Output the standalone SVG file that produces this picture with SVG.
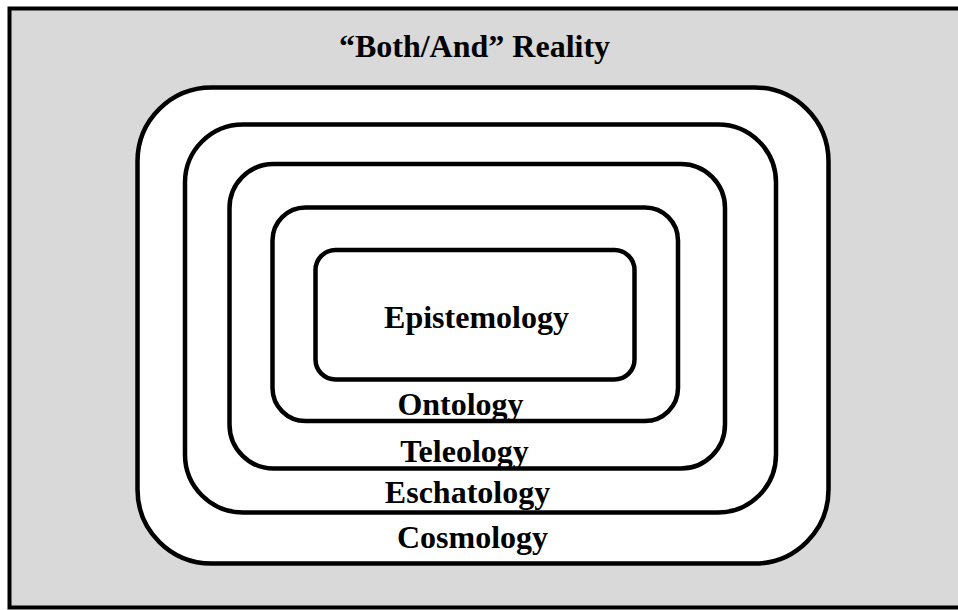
<svg xmlns="http://www.w3.org/2000/svg" width="958" height="610" viewBox="0 0 958 610">
  <style>
    .frame { fill: #d9d9d9; stroke: #000; stroke-width: 4; }
    .fill { fill: #fff; stroke: none; }
    .line { fill: none; stroke: #000; stroke-width: 4.5; }
    .label { font-family: "Liberation Serif", "Times New Roman", serif; font-weight: bold; font-size: 32px; fill: #000; text-anchor: middle; }
  </style>

  <defs>
    <rect id="r-cos" x="137.5" y="87.5" width="691" height="476" rx="74" ry="74"/>
    <rect id="r-esc" x="185" y="124.5" width="591" height="388" rx="58" ry="58"/>
    <rect id="r-tel" x="229.5" y="164" width="495.5" height="304.5" rx="44" ry="44"/>
    <rect id="r-ont" x="272.5" y="207.5" width="405.5" height="213.5" rx="33" ry="33"/>
    <rect id="r-epi" x="315.5" y="250" width="319" height="129.5" rx="20" ry="20"/>
  </defs>

  <!-- outer field -->
  <g id="reality">
    <rect class="frame" x="9.5" y="8.5" width="960" height="599"/>
    <text class="label" x="474.5" y="57">“Both/And” Reality</text>
  </g>

  <!-- nested layers, outermost first; outline drawn over the label so descenders sit under the edge -->
  <g id="cosmology">
    <use href="#r-cos" class="fill"/>
    <text class="label" x="472.5" y="548">Cosmology</text>
    <use href="#r-cos" class="line"/>
  </g>
  <g id="eschatology">
    <use href="#r-esc" class="fill"/>
    <text class="label" x="467.5" y="503">Eschatology</text>
    <use href="#r-esc" class="line"/>
  </g>
  <g id="teleology">
    <use href="#r-tel" class="fill"/>
    <text class="label" x="464.5" y="461.5">Teleology</text>
    <use href="#r-tel" class="line"/>
  </g>
  <g id="ontology">
    <use href="#r-ont" class="fill"/>
    <text class="label" x="460.5" y="415">Ontology</text>
    <use href="#r-ont" class="line"/>
  </g>
  <g id="epistemology">
    <use href="#r-epi" class="fill"/>
    <text class="label" x="476.5" y="328">Epistemology</text>
    <use href="#r-epi" class="line"/>
  </g>

  <g id="connectors"/>
</svg>
